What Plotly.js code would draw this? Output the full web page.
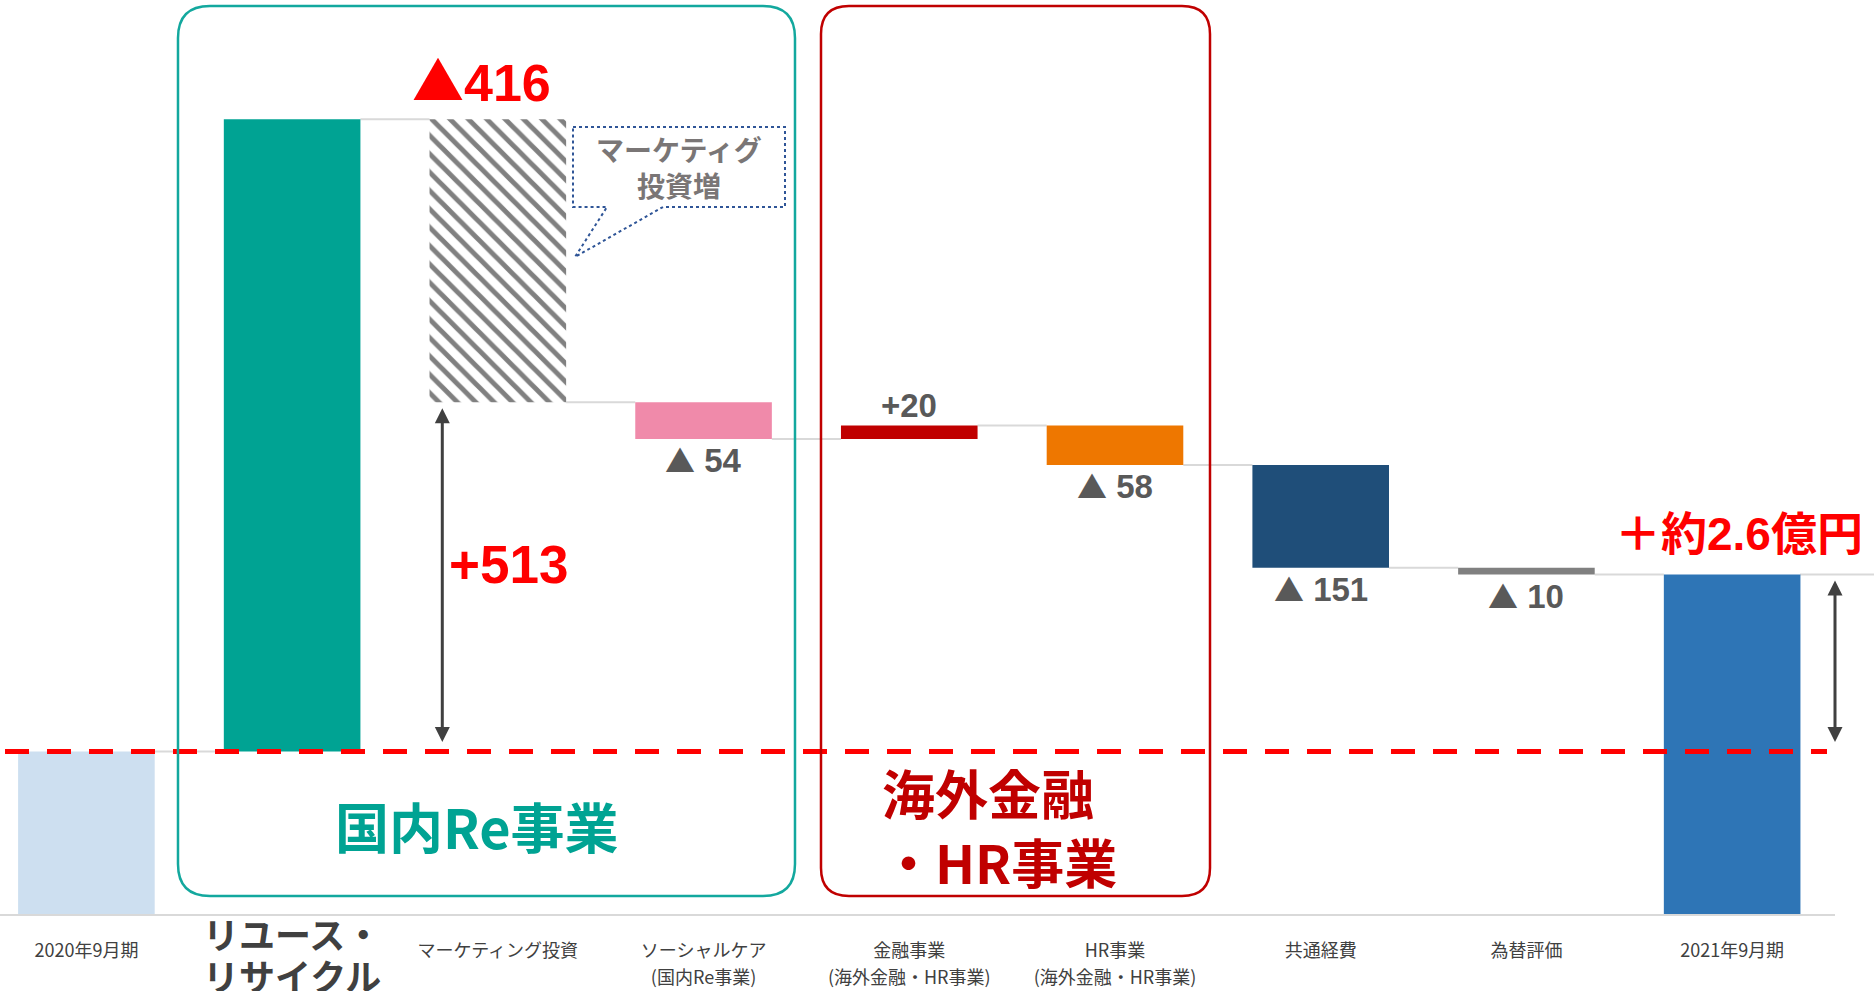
<!DOCTYPE html>
<html><head><meta charset="utf-8">
<script src="https://cdn.plot.ly/plotly-3.0.1.min.js"></script>
<style>html,body{margin:0;padding:0;background:#fff}#chart{width:1874px;height:991px}</style>
</head><body><div id="chart"></div>
<script>
// ---- data ----
const categories = ['2020年9月期','リユース・リサイクル','マーケティング投資','ソーシャルケア(国内Re事業)','金融事業(海外金融・HR事業)','HR事業(海外金融・HR事業)','共通経費','為替評価','2021年9月期'];
const tickLines = [['2020年9月期'],['リユース・','リサイクル'],['マーケティング投資'],['ソーシャルケア','(国内Re事業)'],['金融事業','(海外金融・HR事業)'],['HR事業','(海外金融・HR事業)'],['共通経費'],['為替評価'],['2021年9月期']];
const startValue = 240;                       // 2020年9月期 (visible part)
const changes = [929, -416, -54, 20, -58, -151, -10];
const barColors = ['#cddff0','#00a393','#808080','#f08aaa','#c00000','#ee7700','#1f4e79','#808080','#2e75b6'];
const barPatterns = ['','','\\','','','','','',''];
const regionLabels = ['国内Re事業','海外金融<br>・HR事業'];
const calloutText = 'マーケティグ<br>投資増';

// ---- geometry helpers ----
const PW = 1835, PH = 915;
const xp = px => px / PW;
const yp = py => (PH - py) / PH;
const HW = 0.332;

// ---- compute waterfall ----
const n = categories.length;
const xs = categories.map((_, i) => i);
const bases = [0], heights = [startValue], ends = [startValue];
let level = startValue;
changes.forEach(c => {
  bases.push(c >= 0 ? level : level + c);
  heights.push(Math.abs(c));
  level += c;
  ends.push(level);
});
const endValue = level;
bases.push(0); heights.push(endValue); ends.push(endValue);

const bar = {
  type: 'bar', x: xs, y: heights, base: bases, xaxis: 'x', yaxis: 'y',
  marker: {color: barColors, line: {width: 0},
    pattern: {shape: barPatterns, fillmode: 'replace', bgcolor: '#ffffff', size: 13, solidity: 0.38}},
  hoverinfo: 'skip', showlegend: false
};
// carrier so the overlaying category-label axis is drawn
const axisCarrier = {type: 'scatter', x: [1], y: [null], xaxis: 'x2', yaxis: 'y', mode: 'markers',
  marker: {opacity: 0}, hoverinfo: 'skip', showlegend: false};

// ---- shapes ----
const shapes = [];
for (let i = 0; i < n - 1; i++) {
  shapes.push({type: 'line', xref: 'x', yref: 'y', x0: i + HW, x1: i + 1 - HW, y0: ends[i], y1: ends[i],
    line: {color: '#d9d9d9', width: 2}, layer: 'below'});
}
shapes.push({type: 'line', xref: 'paper', yref: 'y', x0: xp(1732 + 68), x1: xp(1874), y0: endValue, y1: endValue,
  line: {color: '#d9d9d9', width: 2}, layer: 'below'});
// baseline
shapes.push({type: 'line', xref: 'paper', yref: 'paper', x0: 0, x1: 1, y0: 0, y1: 0, line: {color: '#d9d9d9', width: 2}});
// red dashed reference
shapes.push({type: 'line', xref: 'paper', yref: 'y', x0: xp(5), x1: xp(1827), y0: startValue, y1: startValue,
  line: {color: '#ff0000', width: 5, dash: '24px,18px'}});

function rrect(x0, y0, x1, y1, r) {
  const P = (x, y) => xp(x).toFixed(5) + ',' + yp(y).toFixed(5);
  return 'M' + P(x0 + r, y0) + ' L' + P(x1 - r, y0) + ' Q' + P(x1, y0) + ' ' + P(x1, y0 + r) +
    ' L' + P(x1, y1 - r) + ' Q' + P(x1, y1) + ' ' + P(x1 - r, y1) +
    ' L' + P(x0 + r, y1) + ' Q' + P(x0, y1) + ' ' + P(x0, y1 - r) +
    ' L' + P(x0, y0 + r) + ' Q' + P(x0, y0) + ' ' + P(x0 + r, y0) + ' Z';
}
shapes.push({type: 'path', xref: 'paper', yref: 'paper', path: rrect(178, 6, 795, 896, 32), line: {color: '#13a89e', width: 2.5}});
shapes.push({type: 'path', xref: 'paper', yref: 'paper', path: rrect(821, 6, 1210, 896, 28), line: {color: '#c00000', width: 2.5}});
// callout
(function () {
  const P = (x, y) => xp(x).toFixed(5) + ',' + yp(y).toFixed(5);
  const path = 'M' + P(573, 127) + ' L' + P(785, 127) + ' L' + P(785, 207) + ' L' + P(663, 207) +
    ' L' + P(575, 257) + ' L' + P(607, 207) + ' L' + P(573, 207) + ' Z';
  shapes.push({type: 'path', xref: 'paper', yref: 'paper', path: path, line: {color: '#2f5597', width: 2, dash: 'dot'}});
})();

// ---- annotations ----
const numFont = "'Liberation Sans', Arial, 'Noto Sans CJK JP', sans-serif";
const jpFont = "'Noto Sans CJK JP', 'Liberation Sans', sans-serif";
const triSmall = "<span style=\"font-family:'Noto Sans CJK JP';font-size:30px\">▲</span>";
const triBig = "<span style=\"font-family:'Noto Sans CJK JP'\">▲</span>";
const ann = [];
const fmtDelta = v => (v < 0 ? triSmall + ' ' + Math.abs(v) : '+' + v);
for (let i = 3; i <= 7; i++) {
  const c = changes[i - 1];
  ann.push({x: i, y: c < 0 ? bases[i] : bases[i] + heights[i], xref: 'x', yref: 'y', xanchor: 'center',
    yanchor: c < 0 ? 'top' : 'bottom', yshift: c < 0 ? 4 : 0, showarrow: false,
    text: fmtDelta(c), font: {family: numFont, size: 33, color: '#595959', weight: 'bold'}});
}
// marketing
ann.push({x: 2, y: bases[2] + heights[2], xref: 'x', yref: 'y', xanchor: 'center', yanchor: 'bottom', xshift: -16, yshift: 1,
  showarrow: false, text: triBig + Math.abs(changes[1]), font: {family: numFont, size: 52, color: '#ff0000', weight: 'bold'}});
// net domestic
const netDom = changes[0] + changes[1];
const arrowX = 1.73;
ann.push({x: arrowX, y: (startValue + ends[2]) / 2, xref: 'x', yref: 'y', xanchor: 'left', yanchor: 'middle', xshift: 5, yshift: 12,
  showarrow: false, text: '+' + netDom, font: {family: numFont, size: 53, color: '#ff0000', weight: 'bold'}});
// total
const totalChg = endValue - startValue;
ann.push({x: n - 1, y: endValue, xref: 'x', yref: 'y', xanchor: 'center', yanchor: 'bottom', xshift: 7, yshift: 13, showarrow: false,
  text: '＋約' + (totalChg / 100).toFixed(1) + '億円', font: {family: numFont, size: 46, color: '#ff0000', weight: 'bold'}});
// double arrows
ann.push({x: arrowX, y: ends[2], ax: arrowX, ay: startValue, xref: 'x', yref: 'y', axref: 'x', ayref: 'y', text: '',
  showarrow: true, arrowside: 'end+start', arrowhead: 2, arrowsize: 1, arrowwidth: 3, arrowcolor: '#404040', standoff: 6, startstandoff: 8});
ann.push({x: n - 0.5, y: endValue, ax: n - 0.5, ay: startValue, xref: 'x', yref: 'y', axref: 'x', ayref: 'y', text: '',
  showarrow: true, arrowside: 'end+start', arrowhead: 2, arrowsize: 1, arrowwidth: 3, arrowcolor: '#404040', standoff: 6, startstandoff: 8});
// region labels
ann.push({x: xp(477), y: yp(825), xref: 'paper', yref: 'paper', xanchor: 'center', yanchor: 'middle', showarrow: false,
  text: regionLabels[0], font: {family: jpFont, size: 54, color: '#00a393', weight: 'bold'}});
ann.push({x: xp(880), y: yp(826), xref: 'paper', yref: 'paper', xanchor: 'left', yanchor: 'middle', align: 'left', showarrow: false,
  text: regionLabels[1], font: {family: jpFont, size: 53, color: '#c00000', weight: 'bold'}});
// callout text
ann.push({x: xp(679), y: yp(167), xref: 'paper', yref: 'paper', xanchor: 'center', yanchor: 'middle', showarrow: false,
  text: calloutText, font: {family: jpFont, size: 28, color: '#7a7676', weight: 'bold'}});

// ---- ticks ----
const smallIdx = xs.filter(i => i !== 1);
const smallText = smallIdx.map(i => tickLines[i].map(s => "<span style='font-size:18px'>" + s + '</span>').join('<br>'));
const bigText = tickLines[1].map(s => "<span style='font-size:36px'>" + s + '</span>').join('<br>');

const layout = {
  width: 1874, height: 991,
  margin: {l: 0, r: 39, t: 0, b: 76},
  paper_bgcolor: '#ffffff', plot_bgcolor: '#ffffff',
  bargap: 0.336,
  xaxis: {range: [-0.42, n - 0.5], tickmode: 'array', tickvals: smallIdx, ticktext: smallText,
    tickfont: {family: jpFont, size: 21, color: '#404040'}, showgrid: false, zeroline: false, showline: false,
    ticks: '', ticklabelstandoff: 20, fixedrange: true},
  xaxis2: {overlaying: 'x', anchor: 'y', side: 'bottom', range: [-0.42, n - 0.5], tickmode: 'array', tickvals: [1],
    ticktext: [bigText], tickfont: {family: jpFont, size: 32, color: '#404040', weight: 'bold'},
    showgrid: false, zeroline: false, showline: false, ticks: '', ticklabelstandoff: 1, fixedrange: true},
  yaxis: {range: [0, 1344], visible: false, showgrid: false, zeroline: false, fixedrange: true},
  shapes: shapes, annotations: ann, showlegend: false
};
Plotly.newPlot('chart', [bar, axisCarrier], layout, {displayModeBar: false, staticPlot: true});
</script></body></html>
